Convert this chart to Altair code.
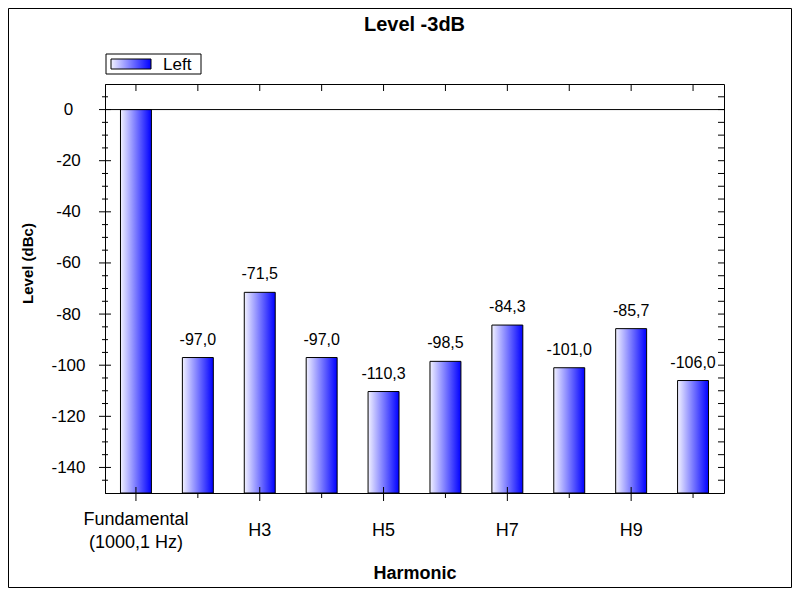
import json
import altair as alt
import pandas as pd

# ---- data ----
categories = ["Fundamental", "H2", "H3", "H4", "H5", "H6", "H7", "H8", "H9", "H10"]
levels = [0.0, -97.0, -71.5, -97.0, -110.3, -98.5, -84.3, -101.0, -85.7, -106.0]
tick_labels = [["Fundamental", "(1000,1 Hz)"], "", "H3", "", "H5", "", "H7", "", "H9", ""]
series_names = ["Left"]
y_major = [-140, -120, -100, -80, -60, -40, -20, 0]
y_all_ticks = list(range(-145, 10, 5))
y_minor = [v for v in y_all_ticks if v not in y_major]

W, H = 619, 409
PAD_L, PAD_T, TOT_W, TOT_H = 97, 76, 784, 580
FONT = "Liberation Sans"

bars_df = pd.DataFrame({
    "cat": categories,
    "value": levels,
    "label": [f"{v:.1f}".replace(".", ",") for v in levels],
})
cat_df = pd.DataFrame({
    "cat": categories,
    "labeled": [lab != "" for lab in tick_labels],
})
major_df = pd.DataFrame({"value": y_major})
minor_df = pd.DataFrame({"value": y_minor})
all_df = pd.DataFrame({"value": y_all_ticks})
zero_df = pd.DataFrame({"value": [0]})
legend_df = pd.DataFrame({"series": series_names})

grad = alt.LinearGradient(
    gradient="linear",
    stops=[alt.GradientStop(color="#f2f2ff", offset=0),
           alt.GradientStop(color="#0000ff", offset=1)],
    x1=0, x2=1, y1=0, y2=0,
)

xscale = alt.Scale(domain=categories, paddingInner=0.5, paddingOuter=0.25)
yscale = alt.Scale(domain=[-150, 10], nice=False, zero=False)

label_expr = (
    f"{json.dumps(tick_labels)}[indexof({json.dumps(categories)}, datum.value)]"
)
multiline_test = " || ".join(
    f"datum.value == {json.dumps(c)}" for c, lab in zip(categories, tick_labels) if isinstance(lab, list)
)

x_axis = alt.Axis(title="Harmonic", labelExpr=label_expr, ticks=False, tickSize=0,
                  labelPadding=37,
                  labelBaseline={"condition": {"test": multiline_test, "value": "line-bottom"},
                                 "value": "middle"},
                  labelLineHeight=23,
                  labelFontSize=18, labelAngle=0, labelOverlap=False,
                  labelColor="black", titleColor="black", domainColor="black",
                  titleFontSize=18, titleFontWeight="bold", titleY=80,
                  titleBaseline="middle", labelFont=FONT, titleFont=FONT)
y_axis = alt.Axis(title="Level (dBc)", values=y_major, ticks=False, tickSize=0,
                  labelExpr="toString(datum.value)",
                  grid=False, labelPadding=37, labelAlign="center",
                  labelFontSize=17, labelColor="black", titleColor="black",
                  domainColor="black", titleFontSize=15, titleFontWeight="bold",
                  titleX=-78, titleY=179, titleAngle=-90, titleAlign="center",
                  titleBaseline="middle", labelFont=FONT, titleFont=FONT)


def X(**kw):
    return alt.X("cat:N", scale=xscale, sort=categories, axis=x_axis, **kw)


def Y():
    return alt.Y("value:Q", scale=yscale, axis=y_axis)


bars = alt.Chart(bars_df).mark_bar(fill=grad, stroke="black", strokeWidth=1).encode(
    x=X(), y=Y(), y2=alt.datum(-150),
)

value_text = alt.Chart(bars_df).transform_filter(
    alt.datum.cat != categories[0]
).mark_text(fontSize=16, baseline="alphabetic", dy=-13, color="black", font=FONT).encode(
    x=X(), y=Y(), text="label:N",
)

zero_line = alt.Chart(zero_df).mark_rule(color="black", strokeWidth=1).encode(y=Y())

left_major = alt.Chart(major_df).mark_rule(color="black").encode(
    y=Y(), x=alt.value(-6), x2=alt.value(6))
left_minor = alt.Chart(minor_df).mark_rule(color="black").encode(
    y=Y(), x=alt.value(-3), x2=alt.value(3))
right_ticks = alt.Chart(all_df).mark_rule(color="black").encode(
    y=Y(), x=alt.value(W - 6), x2=alt.value(W))

top_ticks = alt.Chart(cat_df).mark_rule(color="black").encode(
    x=X(bandPosition=0.5), y=alt.value(0), y2=alt.value(7))
bottom_lab = alt.Chart(cat_df).transform_filter(alt.datum.labeled).mark_rule(color="black").encode(
    x=X(bandPosition=0.5), y=alt.value(H - 6), y2=alt.value(H + 8))
bottom_unlab = alt.Chart(cat_df).transform_filter(~alt.datum.labeled).mark_rule(color="black").encode(
    x=X(bandPosition=0.5), y=alt.value(H), y2=alt.value(H + 5))

# legend (drawn)
legend_box = alt.Chart(legend_df).mark_rect(fill="white", stroke="black", strokeWidth=1).encode(
    x=alt.value(1), x2=alt.value(96), y=alt.value(-30), y2=alt.value(-10))
legend_swatch = alt.Chart(legend_df).mark_rect(fill=grad, stroke="black", strokeWidth=1).encode(
    x=alt.value(6), x2=alt.value(46), y=alt.value(-25), y2=alt.value(-15))
legend_text = alt.Chart(legend_df).mark_text(align="left", baseline="alphabetic", fontSize=17,
                                             color="black", font=FONT).encode(
    x=alt.value(58), y=alt.value(-14), text="series:N")

# outer frame
frame = alt.Chart(legend_df).mark_rect(fill="transparent", stroke="black", strokeWidth=1).encode(
    x=alt.value(-PAD_L + 0.5), x2=alt.value(TOT_W - PAD_L - 0.5),
    y=alt.value(-PAD_T + 0.5), y2=alt.value(TOT_H - PAD_T - 0.5))

chart = alt.layer(
    bars, frame, zero_line, value_text, left_major, left_minor, right_ticks,
    top_ticks, bottom_lab, bottom_unlab, legend_box, legend_swatch, legend_text,
).properties(
    width=W, height=H,
    title=alt.TitleParams("Level -3dB", fontSize=20, fontWeight="bold", font=FONT,
                          anchor="middle", offset=0, baseline="alphabetic", dy=43,
                          color="black"),
    autosize=alt.AutoSizeParams(type="none"),
    padding={"left": PAD_L, "top": PAD_T, "right": TOT_W - PAD_L - W, "bottom": TOT_H - PAD_T - H},
).configure(font=FONT, background="white").configure_view(stroke="black", strokeWidth=1)

chart.save("out.html", embed_options={"renderer": "svg", "actions": False})
